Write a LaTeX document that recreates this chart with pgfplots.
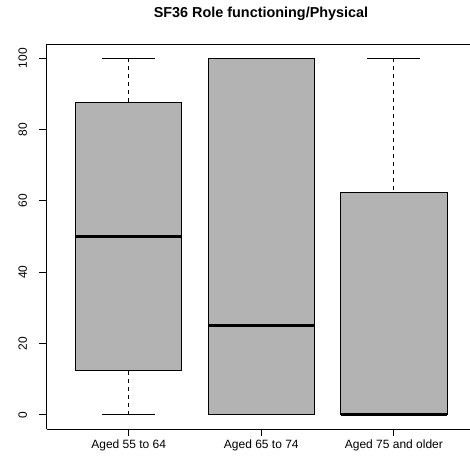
\documentclass[border=0pt]{standalone}
\usepackage{fontspec}
\setmainfont{Liberation Sans}
\usepackage{pgfplots}
\pgfplotsset{compat=1.18}
\usepgfplotslibrary{statistics}
\definecolor{boxgray}{RGB}{179,179,179}
\begin{document}
\begin{tikzpicture}
\path[use as bounding box, clip] (0,0) rectangle (470bp,465bp);
\begin{axis}[
  at={(46.5bp,36bp)}, anchor=south west,
  scale only axis, width=429.6bp, height=385bp,
  xmin=0.38, xmax=3.62, ymin=-4, ymax=104,
  axis lines=left,
  axis line style={line width=0.8bp, -},
  xtick={1,2,3},
  xticklabels={Aged 55 to 64, Aged 65 to 74, Aged 75 and older},
  ytick={0,20,40,60,80,100},
  tick align=outside,
  major tick length=7.2bp,
  tick style={line width=0.8bp, black},
  /pgf/number format/assume math mode=true,
  tick label style={font=\fontsize{12bp}{14bp}\selectfont},
  yticklabel style={xshift=-12bp, rotate=90, anchor=south, inner sep=0pt},
  xticklabel style={anchor=north, inner sep=0pt, yshift=-3bp},
  boxplot/draw direction=y,
  boxplot/every box/.style={fill=boxgray, draw=black, line width=0.8bp},
  boxplot/every median/.style={line width=2.6bp},
  boxplot/draw/lower whisker/.code={%
    \draw[line width=0.8bp, dash pattern=on 4bp off 4bp] (boxplot cs:\pgfplotsboxplotvalue{lower whisker}) -- (boxplot cs:\pgfplotsboxplotvalue{lower quartile});
    \draw[line width=0.8bp] (boxplot whisker cs:\pgfplotsboxplotvalue{lower whisker},0) -- (boxplot whisker cs:\pgfplotsboxplotvalue{lower whisker},1);
  },
  boxplot/draw/upper whisker/.code={%
    \draw[line width=0.8bp, dash pattern=on 4bp off 4bp] (boxplot cs:\pgfplotsboxplotvalue{upper whisker}) -- (boxplot cs:\pgfplotsboxplotvalue{upper quartile});
    \draw[line width=0.8bp] (boxplot whisker cs:\pgfplotsboxplotvalue{upper whisker},0) -- (boxplot whisker cs:\pgfplotsboxplotvalue{upper whisker},1);
  },
]
\addplot[black, boxplot prepared={draw position=1, lower whisker=0, lower quartile=12.5, median=50, upper quartile=87.5, upper whisker=100, box extend=0.8, whisker extend=0.4}] coordinates {};
\addplot[black, boxplot prepared={draw position=2, lower whisker=0, lower quartile=0, median=25, upper quartile=100, upper whisker=100, box extend=0.8, whisker extend=0.4}] coordinates {};
\addplot[black, boxplot prepared={draw position=3, lower whisker=0, lower quartile=0, median=0, upper quartile=62.5, upper whisker=100, box extend=0.8, whisker extend=0.4}] coordinates {};
\draw[line width=0.8bp] (rel axis cs:0,1) -- (rel axis cs:1,1);
\end{axis}
\node[font=\fontsize{14.4bp}{17bp}\selectfont\bfseries] at (261bp,451bp) {SF36 Role functioning/Physical};
\end{tikzpicture}
\end{document}
